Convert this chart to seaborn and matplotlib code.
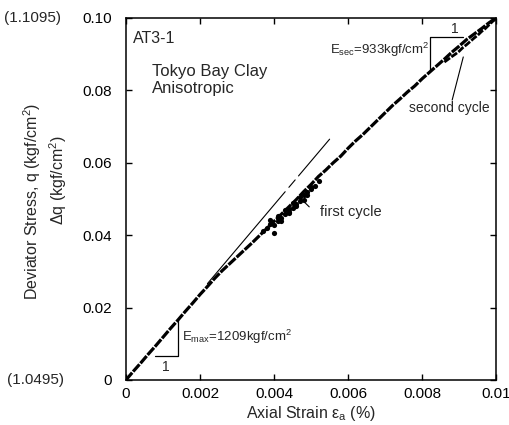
import numpy as np
import pandas as pd
import matplotlib
matplotlib.use('Agg')
import matplotlib.pyplot as plt
import seaborn as sns

# first loading cycle (strain %, dq kgf/cm2)
strain_1 = [0.0000, 0.0002, 0.0004, 0.0006, 0.0008, 0.0010, 0.0012, 0.0014, 0.0016, 0.0018,
            0.0020, 0.0022, 0.0024, 0.0026, 0.0028, 0.0030, 0.0032, 0.0034, 0.0036, 0.0038,
            0.0040, 0.0042, 0.0044, 0.0046, 0.0048, 0.0050, 0.0052, 0.0054, 0.0056, 0.0058,
            0.0060, 0.0062, 0.0064, 0.0066, 0.0068, 0.0070, 0.0072, 0.0074, 0.0076, 0.0078,
            0.0080, 0.0082, 0.0084, 0.0086, 0.0088, 0.0090, 0.0092, 0.0094, 0.0096, 0.0098, 0.0100]
dq_1 = [0.0000, 0.0024, 0.0047, 0.0071, 0.0094, 0.0118, 0.0142, 0.0165, 0.0189, 0.0212,
        0.0236, 0.0258, 0.0281, 0.0302, 0.0321, 0.0340, 0.0359, 0.0378, 0.0398, 0.0418,
        0.0438, 0.0458, 0.0478, 0.0498, 0.0520, 0.0540, 0.0562, 0.0580, 0.0600, 0.0618,
        0.0640, 0.0660, 0.0678, 0.0698, 0.0718, 0.0738, 0.0758, 0.0776, 0.0795, 0.0812,
        0.0832, 0.0850, 0.0868, 0.0886, 0.0905, 0.0922, 0.0940, 0.0955, 0.0970, 0.0986, 0.1000]

# scatter of the first unload/reload cycle
strain_c1 = [0.0037, 0.0038, 0.0039, 0.0040, 0.0041, 0.0042, 0.0043, 0.0044, 0.0045, 0.0046,
             0.0047, 0.0048, 0.0049, 0.0050, 0.0051, 0.0040, 0.0042, 0.0044, 0.0046, 0.0048,
             0.0039, 0.0041, 0.0043, 0.0045, 0.0047, 0.0049, 0.0052, 0.0041, 0.0044, 0.0050]
dq_c1 = [0.0412, 0.0420, 0.0442, 0.0428, 0.0452, 0.0446, 0.0470, 0.0462, 0.0488, 0.0480,
         0.0505, 0.0498, 0.0520, 0.0528, 0.0536, 0.0405, 0.0440, 0.0465, 0.0485, 0.0510,
         0.0432, 0.0447, 0.0458, 0.0476, 0.0494, 0.0512, 0.0550, 0.0438, 0.0471, 0.0532]

# second cycle near the peak
strain_2 = [0.0086, 0.0088, 0.0089, 0.0090, 0.0091, 0.0092, 0.0093, 0.0094, 0.0095, 0.0096,
            0.0097, 0.0098, 0.0099, 0.0100]
dq_2 = [0.0878, 0.0893, 0.0900, 0.0908, 0.0918, 0.0926, 0.0935, 0.0944, 0.0952, 0.0962,
        0.0970, 0.0980, 0.0990, 0.0998]

E_max = 1209  # kgf/cm2, tangent line q = E * eps / 100
tangent_x = [(0.0022, 0.0043), (0.0044, 0.00457), (0.00466, 0.0055)]

tri_max_x = [0.00078, 0.0014, 0.0014]
tri_max_y = [0.0066, 0.0066, 0.0166]
tri_sec_x = [0.00822, 0.00822, 0.0091]
tri_sec_y = [0.0855, 0.0948, 0.0948]

xticks = [0, 0.002, 0.004, 0.006, 0.008, 0.01]
xticklabels = ['0', '0.002', '0.004', '0.006', '0.008', '0.01']
yticks = [0, 0.02, 0.04, 0.06, 0.08, 0.10]
yticklabels = ['0', '0.02', '0.04', '0.06', '0.08', '0.10']

sns.set_style('ticks')
plt.rcParams['font.family'] = ['Liberation Sans', 'DejaVu Sans']
plt.rcParams['mathtext.fontset'] = 'custom'
plt.rcParams['mathtext.rm'] = 'Liberation Sans'
plt.rcParams['mathtext.it'] = 'Liberation Sans:italic'

fig = plt.figure(figsize=(5.1, 4.25), dpi=100)
ax = fig.add_axes([0.247, 0.106, 0.726, 0.852])

df1 = pd.DataFrame({'strain': strain_1, 'dq': dq_1})
df2 = pd.DataFrame({'strain': strain_2, 'dq': dq_2})
dfc = pd.DataFrame({'strain': strain_c1, 'dq': dq_c1})

sns.lineplot(data=df1, x='strain', y='dq', color='black', linewidth=2.3, sort=False,
             linestyle=(0, (3, 0.45)), ax=ax)
sns.scatterplot(data=dfc, x='strain', y='dq', color='black', s=14, linewidth=0, ax=ax)
sns.lineplot(data=df2, x='strain', y='dq', color='black', linewidth=2.0, sort=False,
             linestyle=(0, (2.5, 0.6)), ax=ax)

for x0, x1 in tangent_x:
    ax.plot([x0, x1], [E_max / 100 * x0, E_max / 100 * x1], color='black', linewidth=0.8)

ax.plot(tri_max_x, tri_max_y, color='black', linewidth=0.9)
ax.plot(tri_sec_x, tri_sec_y, color='black', linewidth=0.9)

ax.text(0.00108, 0.0036, '1', fontsize=10, ha='center', va='center')
ax.text(0.00151, 0.0119, r'E$_{\rm max}$=1209kgf/cm$^2$', fontsize=9.5, ha='left', va='center')
ax.text(0.00887, 0.0969, '1', fontsize=10, ha='center', va='center')
ax.text(0.0082, 0.0912, r'E$_{\rm sec}$=933kgf/cm$^2$', fontsize=9.5, ha='right', va='center')

ax.plot([0.00495, 0.0047], [0.0478, 0.0503], color='black', linewidth=0.8)
ax.text(0.00524, 0.0464, 'first cycle', fontsize=10.5, ha='left', va='center')
ax.plot([0.00881, 0.00911], [0.0773, 0.0892], color='black', linewidth=0.8)
ax.text(0.00765, 0.0751, 'second cycle', fontsize=10, ha='left', va='center')

ax.text(0.019, 0.942, 'AT3-1', fontsize=11.5, transform=ax.transAxes, ha='left', va='center')
ax.text(0.07, 0.851, 'Tokyo Bay Clay', fontsize=12, transform=ax.transAxes, ha='left', va='center')
ax.text(0.07, 0.804, 'Anisotropic', fontsize=12, transform=ax.transAxes, ha='left', va='center')

ax.set_xlim(0, 0.01)
ax.set_ylim(0, 0.10)
ax.set_xticks(xticks)
ax.set_xticklabels(xticklabels)
ax.set_yticks(yticks)
ax.set_yticklabels(yticklabels)
ax.tick_params(direction='in', length=4, width=1, top=True, right=True,
               labelsize=11, colors='black')
ax.tick_params(axis='y', pad=10)
ax.tick_params(axis='x', pad=5)
for s in ax.spines.values():
    s.set_linewidth(1.1)
    s.set_color('black')

ax.set_xlabel(r'Axial Strain ε$_{\rm a}$ (%)', fontsize=11.5, labelpad=2)
ax.set_ylabel('Δq (kgf/cm$^2$)', fontsize=11.5)
ax.yaxis.set_label_coords(-0.154, 0.552)
fig.text(0.063, 0.525, 'Deviator Stress, q (kgf/cm$^2$)', fontsize=11.5, rotation=90,
         ha='center', va='center')
fig.text(0.008, 1 - 18 / 425, '(1.1095)', fontsize=11, ha='left', va='center')
fig.text(0.014, 1 - 380 / 425, '(1.0495)', fontsize=11, ha='left', va='center')

plt.savefig('out.png', dpi=100)
plt.close()
